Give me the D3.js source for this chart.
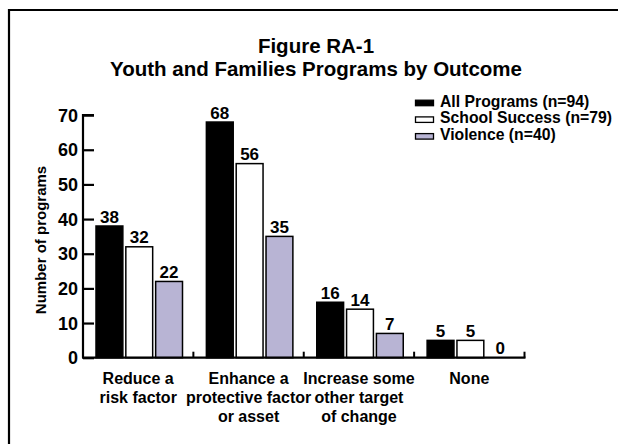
<!DOCTYPE html>
<html><head><meta charset="utf-8">
<script src="https://cdn.jsdelivr.net/npm/d3@7"></script>
<style>
html,body{margin:0;padding:0;background:#fff;}
svg{display:block;font-family:"Liberation Sans",Arial,Helvetica,sans-serif;font-weight:bold;}
</style></head>
<body>
<svg id="chart" width="618" height="444"></svg>
<script>
const categories = [["Reduce a","risk factor"],["Enhance a","protective factor","or asset"],["Increase some","other target","of change"],["None"]];
const seriesNames = ["All Programs (n=94)","School Success (n=79)","Violence (n=40)"];
const allPrograms = [38,68,16,5];
const schoolSuccess = [32,56,14,5];
const violence = [22,35,7,0];
const yTicks = [0,10,20,30,40,50,60,70];
const titleLines = ["Figure RA-1","Youth and Families Programs by Outcome"];
const yTitle = "Number of programs";
const colors = ["#000000","#ffffff","#b8b4d4"];

const series = [allPrograms, schoolSuccess, violence];
const svg = d3.select("#chart");

// frame
svg.append("path").attr("d","M9,450 L9,10 L630,10").attr("fill","none").attr("stroke","#000").attr("stroke-width",2.2);

// title
svg.append("g").selectAll("text").data(titleLines).join("text")
  .attr("x",316).attr("y",(d,i)=>53+i*23).attr("text-anchor","middle")
  .attr("font-size",20.5).text(d=>d);

const x0 = d3.scaleBand().domain(d3.range(categories.length)).range([83,524.5]);
const x1 = d3.scaleBand().domain(d3.range(series.length)).range([13,99.5]).paddingInner(0.1);
const y = d3.scaleLinear().domain([0,70]).range([357.7,115.1]);

// bars
const groups = svg.append("g").selectAll("g").data(categories).join("g")
  .attr("transform",(d,i)=>`translate(${x0(i)},0)`);
groups.each(function(c,ci){
  const g = d3.select(this);
  series.forEach((s,si)=>{
    const v = s[ci];
    if(v>0){
      g.append("rect").attr("x",x1(si)).attr("y",y(v)).attr("width",x1.bandwidth()).attr("height",y(0)-y(v))
        .attr("fill",colors[si]).attr("stroke","#000").attr("stroke-width",1.5);
    }
    g.append("text").attr("x",x1(si)+x1.bandwidth()/2).attr("y",y(v)-3.5).attr("text-anchor","middle")
      .attr("font-size",17).text(v);
  });
});

// y axis
const yAxis = d3.axisRight(y).tickValues(yTicks).tickSize(11).tickFormat("");
const ya = svg.append("g").attr("transform","translate(83,0)").call(yAxis);
ya.select(".domain").attr("stroke-width",2.2).attr("d",`M11,${y(70)}H0V${y(0)}`);
ya.selectAll(".tick line").attr("stroke-width",2.2);
svg.append("g").selectAll("text").data(yTicks).join("text")
  .attr("x",78).attr("y",d=>y(d)).attr("dy","0.36em").attr("text-anchor","end")
  .attr("font-size",18).text(d=>d);

// x axis
const xa = svg.append("g");
xa.append("line").attr("x1",82).attr("x2",525.5).attr("y1",y(0)).attr("y2",y(0)).attr("stroke","#000").attr("stroke-width",2.2);
xa.selectAll("line.sep").data(d3.range(1,categories.length+1)).join("line").attr("class","sep")
  .attr("x1",d=>x0.step()*d+83).attr("x2",d=>x0.step()*d+83).attr("y1",y(0)).attr("y2",y(0)-6)
  .attr("stroke","#000").attr("stroke-width",2);
// category labels
categories.forEach((c,ci)=>{
  const t = svg.append("text").attr("text-anchor","middle").attr("font-size",16);
  c.forEach((line,li)=>{
    t.append("tspan").attr("x",x0(ci)+x0.bandwidth()/2).attr("y",384+li*19).text(line);
  });
});

// y title
svg.append("text").attr("transform","translate(46,240) rotate(-90)").attr("text-anchor","middle")
  .attr("font-size",15).text(yTitle);

// legend
const leg = svg.append("g");
seriesNames.forEach((n,i)=>{
  const by = 106.7 + i*16.7;
  leg.append("rect").attr("x",415.5).attr("y",by-6.5).attr("width",18).attr("height",5.5)
    .attr("fill",colors[i]).attr("stroke","#000").attr("stroke-width",1.3);
  leg.append("text").attr("x",440).attr("y",by).attr("font-size",15.75).text(n);
});
</script>
</body></html>
